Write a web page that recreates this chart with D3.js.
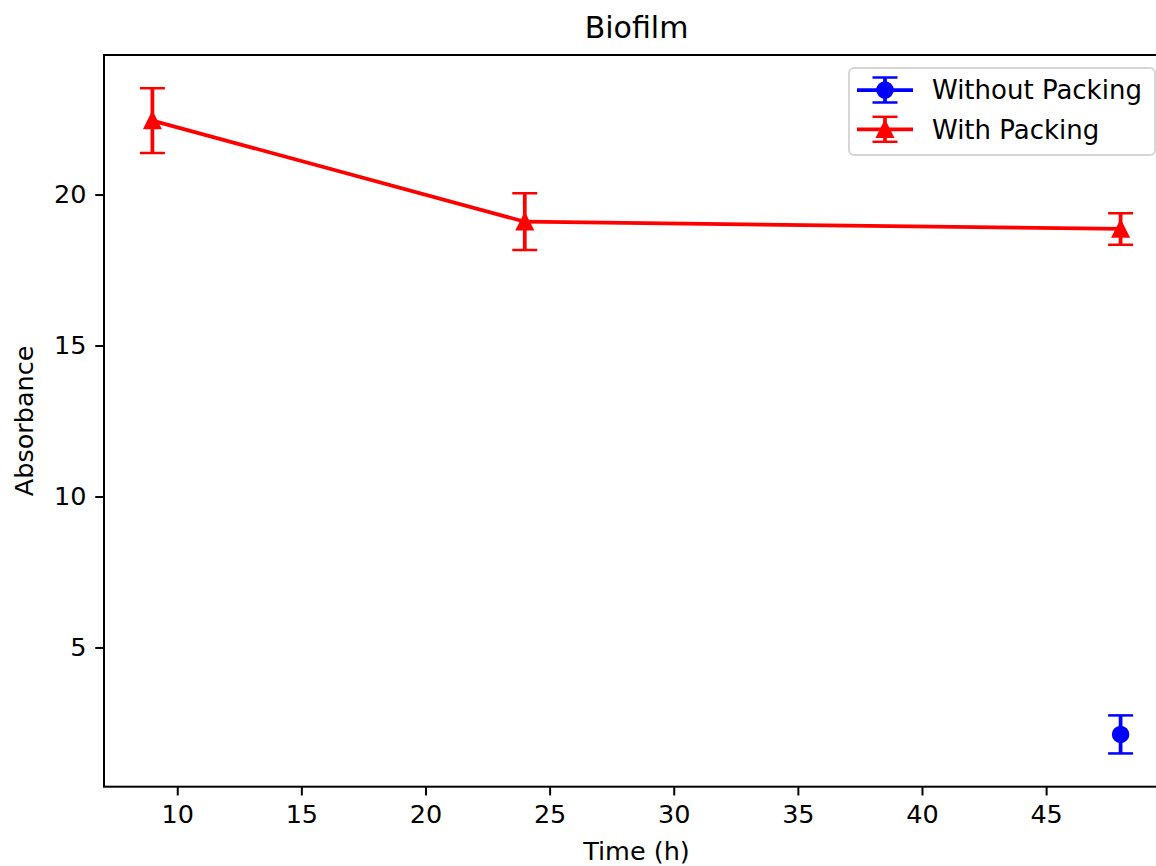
<!DOCTYPE html>
<html>
<head>
<meta charset="utf-8">
<script src="https://cdn.jsdelivr.net/npm/d3@7/dist/d3.min.js"></script>
<style>
  html, body { margin: 0; padding: 0; background: #fff; }
  svg { display: block; }
  text { font-family: "DejaVu Sans", sans-serif; fill: #000; }
</style>
</head>
<body>
<svg id="chart" width="1156" height="866"></svg>
<script>
// Sampling times (h)
const times = [9, 24, 48];
// Mean absorbance and error per series (null = not measured)
const withoutMeans = [null, null, 2.12];
const withoutErrors = [null, null, 0.63];
const withMeans = [22.45, 19.10, 18.86];
const withErrors = [1.07, 0.94, 0.52];
const xTicks = [10, 15, 20, 25, 30, 35, 40, 45];
const yTicks = [5, 10, 15, 20];
const seriesNames = ["Without Packing", "With Packing"];

const svg = d3.select("#chart");
const margin = { left: 104, top: 55 };
const plotW = 1065, plotH = 731.7;

const lw = 3.75, capHalf = 12.5, capW = 2.5, ms = 15;
const fs = 25.5;

const series = [
  { name: seriesNames[0], color: "#0000ff", marker: "circle", means: withoutMeans, errs: withoutErrors },
  { name: seriesNames[1], color: "#ff0000", marker: "triangle", means: withMeans, errs: withErrors }
];

// Domains padded by 5% of the data extent (error bars included)
const xMin = d3.min(times), xMax = d3.max(times);
const xPad = (xMax - xMin) * 0.05;
const lows = [], highs = [];
series.forEach(s => s.means.forEach((m, i) => {
  if (m != null) { lows.push(m - s.errs[i]); highs.push(m + s.errs[i]); }
}));
const yLo = d3.min(lows), yHi = d3.max(highs);
const yPad = (yHi - yLo) * 0.05;

const x = d3.scaleLinear().domain([xMin - xPad, xMax + xPad]).range([margin.left, margin.left + plotW]);
const y = d3.scaleLinear().domain([yLo - yPad, yHi + yPad]).range([margin.top + plotH, margin.top]);

svg.append("defs").append("clipPath").attr("id", "plotclip")
  .append("rect").attr("x", margin.left).attr("y", margin.top).attr("width", plotW).attr("height", plotH);

// Axes
const xAxis = d3.axisBottom(x).tickValues(xTicks).tickSize(8.75).tickPadding(8.75).tickFormat(d3.format("d"));
const yAxis = d3.axisLeft(y).tickValues(yTicks).tickSize(8.75).tickPadding(8.75).tickFormat(d3.format("d"));

const gx = svg.append("g").attr("transform", `translate(0,${margin.top + plotH})`).call(xAxis);
const gy = svg.append("g").attr("transform", `translate(${margin.left},0)`).call(yAxis);
[gx, gy].forEach(g => {
  g.select(".domain").remove();
  g.selectAll(".tick line").attr("stroke", "#000").attr("stroke-width", 2);
  g.selectAll(".tick text").attr("font-size", fs).attr("font-family", "DejaVu Sans").attr("fill", "#000");
});
gx.selectAll(".tick text").attr("dy", "0.72em");

// Spines
svg.append("rect").attr("x", margin.left).attr("y", margin.top).attr("width", plotW).attr("height", plotH)
  .attr("stroke", "#000").attr("stroke-width", 2).attr("fill", "none");

// Data
const plot = svg.append("g").attr("clip-path", "url(#plotclip)");
const triPath = "M0," + (-ms / 2) + "L" + (-ms / 2) + "," + (ms / 2) + "L" + (ms / 2) + "," + (ms / 2) + "Z";

function drawMarker(g, type, cx, cy, color) {
  if (type === "circle") {
    g.append("circle").attr("cx", cx).attr("cy", cy).attr("r", ms / 2)
      .attr("fill", color).attr("stroke", color).attr("stroke-width", 2.5);
  } else {
    g.append("path").attr("d", triPath).attr("transform", `translate(${cx},${cy})`)
      .attr("fill", color).attr("stroke", color).attr("stroke-width", 2.5).attr("stroke-linejoin", "miter");
  }
}

series.forEach(s => {
  const pts = times.map((t, i) => ({ t, m: s.means[i], e: s.errs[i] })).filter(p => p.m != null);
  const line = d3.line().x(p => x(p.t)).y(p => y(p.m));
  plot.append("path").datum(pts).attr("d", line).attr("fill", "none")
    .attr("stroke", s.color).attr("stroke-width", lw).attr("stroke-linejoin", "round").attr("stroke-linecap", "square");
  pts.forEach(p => {
    const cx = x(p.t);
    plot.append("line").attr("x1", cx).attr("x2", cx).attr("y1", y(p.m - p.e)).attr("y2", y(p.m + p.e))
      .attr("stroke", s.color).attr("stroke-width", lw);
    [p.m - p.e, p.m + p.e].forEach(v => {
      plot.append("line").attr("x1", cx - capHalf).attr("x2", cx + capHalf).attr("y1", y(v)).attr("y2", y(v))
        .attr("stroke", s.color).attr("stroke-width", capW);
    });
    drawMarker(plot, s.marker, cx, y(p.m), s.color);
  });
});

// Labels
const cxPlot = margin.left + plotW / 2;
svg.append("text").attr("x", cxPlot).attr("y", 38)
  .attr("text-anchor", "middle").attr("font-size", 30).text("Biofilm");
svg.append("text").attr("x", cxPlot).attr("y", 860)
  .attr("text-anchor", "middle").attr("font-size", fs).text("Time (h)");
svg.append("text").attr("transform", `translate(33,${margin.top + plotH / 2}) rotate(-90)`)
  .attr("text-anchor", "middle").attr("font-size", fs).text("Absorbance");

// Legend
const leg = svg.append("g");
leg.append("rect").attr("x", 849).attr("y", 68).attr("width", 306).attr("height", 87)
  .attr("rx", 5).attr("ry", 5).attr("fill", "#fff").attr("fill-opacity", 0.8)
  .attr("stroke", "#cccccc").attr("stroke-opacity", 0.8).attr("stroke-width", 2);
series.forEach((s, i) => {
  const cy = 90 + i * 39.3;
  const hx0 = 857, hx1 = 913, hc = 885;
  leg.append("line").attr("x1", hx0).attr("x2", hx1).attr("y1", cy).attr("y2", cy)
    .attr("stroke", s.color).attr("stroke-width", lw);
  leg.append("line").attr("x1", hc).attr("x2", hc).attr("y1", cy - 12.5).attr("y2", cy + 12.5)
    .attr("stroke", s.color).attr("stroke-width", lw);
  [cy - 12.5, cy + 12.5].forEach(v => {
    leg.append("line").attr("x1", hc - capHalf).attr("x2", hc + capHalf).attr("y1", v).attr("y2", v)
      .attr("stroke", s.color).attr("stroke-width", capW);
  });
  drawMarker(leg, s.marker, hc, cy, s.color);
  leg.append("text").attr("x", 932).attr("y", cy + 9.3).attr("font-size", 26).text(s.name);
});
</script>
</body>
</html>
